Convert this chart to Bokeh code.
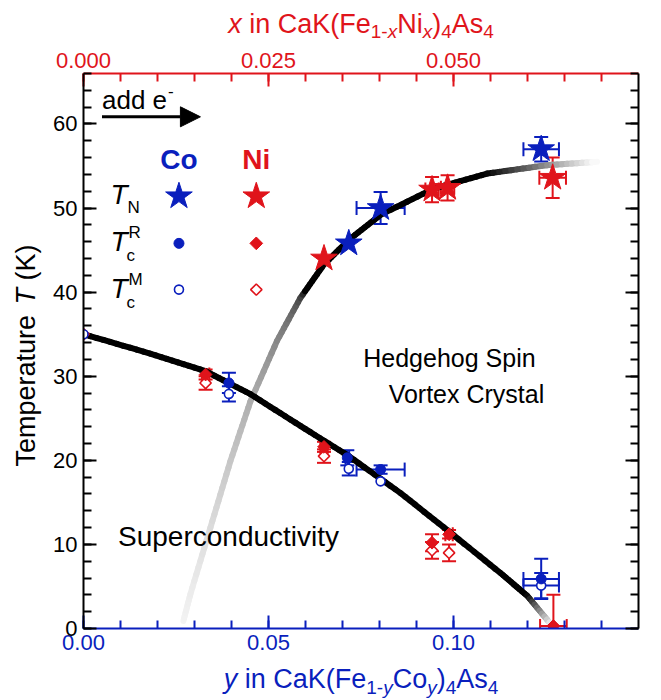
import numpy as np
from bokeh.plotting import figure
from bokeh.layouts import row, column
from bokeh.models import (Range1d, LinearAxis, SingleIntervalTicker, NumeralTickFormatter,
                          CustomJSTickFormatter, Whisker, TeeHead, ColumnDataSource, Label,
                          Arrow, NormalHead)
from bokeh.embed import file_html
from bokeh.resources import INLINE

BLUE = "#0a1fbd"
RED = "#e0141b"
FONT = "Liberation Sans"

# ---------------- data ----------------
# Co-doped (bottom axis, y in CaK(Fe1-yCoy)4As4)
co_tn_y = [0.0717, 0.0803, 0.1237]
co_tn_T = [45.8, 50.0, 57.0]
co_tn_dy = [0.0, 0.0065, 0.0048]
co_tn_dT = [0.0, 1.9, 1.45]

co_tcr_y = [0.0393, 0.0713, 0.0803, 0.1237]
co_tcr_T = [29.2, 20.3, 18.9, 5.9]
co_tcr_dy = [0.0, 0.0005, 0.0065, 0.0048]
co_tcr_dT = [1.2, 0.9, 0.5, 2.4]

co_tcm_y = [0.0, 0.0393, 0.0717, 0.0803, 0.1237]
co_tcm_T = [35.0, 27.9, 19.0, 17.5, 5.1]
co_tcm_dy = [0.0, 0.0, 0.0, 0.0, 0.0048]
co_tcm_dT = [0.0, 0.9, 0.8, 0.0, 1.5]

# Ni-doped (top axis, x in CaK(Fe1-xNix)4As4)
ni_tn_x = [0.0325, 0.0471, 0.0492, 0.0634]
ni_tn_T = [44.0, 52.2, 52.4, 53.6]
ni_tn_dx = [0.0, 0.0009, 0.0009, 0.0018]
ni_tn_dT = [0.0, 1.5, 1.5, 2.4]

ni_tcr_x = [0.0165, 0.0325, 0.0471, 0.0494, 0.0635]
ni_tcr_T = [30.2, 21.6, 10.2, 11.2, 0.3]
ni_tcr_dx = [0.0005, 0.0005, 0.0, 0.0005, 0.0018]
ni_tcr_dT = [0.6, 0.6, 1.0, 0.5, 3.7]

ni_tcm_x = [0.0, 0.0165, 0.0325, 0.0471, 0.0494]
ni_tcm_T = [35.0, 29.2, 20.5, 9.3, 9.0]
ni_tcm_dT = [0.0, 0.8, 0.8, 1.0, 1.0]

# guide-to-the-eye curves (bottom-axis composition)
tc_curve_y = [0.0, 0.018, 0.033, 0.045, 0.0586, 0.0717, 0.0857, 0.0986, 0.1127, 0.1199, 0.1266]
tc_curve_T = [35.0, 32.7, 30.6, 27.9, 24.1, 20.5, 16.1, 11.6, 6.6, 3.9, 0.36]

tn_curve_y = [0.0270, 0.0289, 0.0343, 0.0397, 0.0451, 0.0523, 0.0586, 0.0650, 0.0717,
              0.0803, 0.0946, 0.1091, 0.1253, 0.1388]
tn_curve_T = [0.9, 4.1, 12.0, 19.9, 27.0, 34.2, 39.3, 43.3, 46.2, 49.2, 52.3, 54.1, 55.1, 55.5]

# ---------------- layout geometry (px) ----------------
LEFT_W, TOP_H, BOT_H = 44, 42, 38
MAIN_W, MAIN_H = 661 - LEFT_W, 700 - TOP_H - BOT_H

p = figure(width=MAIN_W, height=MAIN_H, x_range=Range1d(0, 0.15), y_range=Range1d(0, 66),
           output_backend="svg", toolbar_location=None,
           min_border_left=39, min_border_right=23, min_border_top=31, min_border_bottom=34)
p.extra_x_ranges = {"ni": Range1d(0, 0.075)}
p.grid.visible = False
p.outline_line_color = None


def style_axis(ax, color, interval, labels=True):
    ax.ticker = SingleIntervalTicker(interval=interval, num_minor_ticks=5)
    ax.axis_line_color = color
    ax.axis_line_width = 2
    ax.major_tick_line_color = color
    ax.major_tick_line_width = 2
    ax.major_tick_in = 13
    ax.major_tick_out = 0
    ax.minor_tick_line_color = color
    ax.minor_tick_line_width = 2
    ax.minor_tick_in = 8
    ax.minor_tick_out = 0
    ax.major_label_text_color = color
    ax.major_label_text_font = FONT
    ax.major_label_text_font_size = "22px"
    ax.major_label_standoff = 6
    if not labels:
        ax.formatter = CustomJSTickFormatter(code="return ''")


xb = p.xaxis[0]
style_axis(xb, BLUE, 0.05)
xb.formatter = NumeralTickFormatter(format="0.00")
yl = p.yaxis[0]
style_axis(yl, "black", 10)

xt = LinearAxis(x_range_name="ni")
style_axis(xt, RED, 0.025)
xt.formatter = NumeralTickFormatter(format="0.000")
p.add_layout(xt, "above")

yr = LinearAxis()
style_axis(yr, "black", 10, labels=False)
p.add_layout(yr, "right")


# ---------------- curves with fading ----------------
def hexgray(g):
    v = int(round(255 * min(max(g, 0.0), 1.0)))
    return "#%02x%02x%02x" % (v, v, v)


def draw_curve(xs, ys, shade, n=10, width=6):
    sx, sy, cols = [], [], []
    for i in range(len(xs) - 1):
        for k in range(n):
            a, b = k / n, (k + 1) / n
            x0 = xs[i] + (xs[i + 1] - xs[i]) * a
            x1 = xs[i] + (xs[i + 1] - xs[i]) * b
            y0 = ys[i] + (ys[i + 1] - ys[i]) * a
            y1 = ys[i] + (ys[i + 1] - ys[i]) * b
            sx.append([x0, x1])
            sy.append([y0, y1])
            cols.append(hexgray(shade(0.5 * (x0 + x1), 0.5 * (y0 + y1))))
    p.multi_line(sx, sy, line_color=cols, line_width=width, line_cap="round", line_join="round")


def tn_shade(x, T):
    g = 0.0 if T >= 40 else 0.96 * ((40 - T) / 40) ** 0.3
    if x > tn_curve_y[-3]:
        g = max(g, (x - tn_curve_y[-3]) / (tn_curve_y[-1] - tn_curve_y[-3]))
    return g


def tc_shade(x, T):
    if x > tc_curve_y[-2]:
        return 0.95 * (x - tc_curve_y[-2]) / (tc_curve_y[-1] - tc_curve_y[-2])
    return 0.0


draw_curve(tn_curve_y, tn_curve_T, tn_shade)
draw_curve(tc_curve_y, tc_curve_T, tc_shade)


# ---------------- error bars ----------------
def errbars(xs, ys, dx, dy, color, rname="default"):
    head = dict(size=14, line_color=color, line_width=2)
    v = [(x, y, d) for x, y, d in zip(xs, ys, dy) if d > 0]
    if v:
        src = ColumnDataSource(dict(base=[a for a, _, _ in v],
                                    lower=[b - d for _, b, d in v],
                                    upper=[b + d for _, b, d in v]))
        p.add_layout(Whisker(source=src, base="base", lower="lower", upper="upper",
                             dimension="height", line_color=color, line_width=2,
                             upper_head=TeeHead(**head), lower_head=TeeHead(**head),
                             x_range_name=rname))
    h = [(x, y, d) for x, y, d in zip(xs, ys, dx) if d > 0]
    if h:
        src = ColumnDataSource(dict(base=[b for _, b, _ in h],
                                    lower=[a - d for a, _, d in h],
                                    upper=[a + d for a, _, d in h]))
        p.add_layout(Whisker(source=src, base="base", lower="lower", upper="upper",
                             dimension="width", line_color=color, line_width=2,
                             upper_head=TeeHead(**head), lower_head=TeeHead(**head),
                             x_range_name=rname))


errbars(co_tn_y, co_tn_T, co_tn_dy, co_tn_dT, BLUE)
errbars(co_tcr_y, co_tcr_T, co_tcr_dy, co_tcr_dT, BLUE)
errbars(co_tcm_y, co_tcm_T, co_tcm_dy, co_tcm_dT, BLUE)
errbars(ni_tn_x, ni_tn_T, ni_tn_dx, ni_tn_dT, RED, "ni")
errbars(ni_tcr_x, ni_tcr_T, ni_tcr_dx, ni_tcr_dT, RED, "ni")
errbars(ni_tcm_x, ni_tcm_T, [0] * len(ni_tcm_x), ni_tcm_dT, RED, "ni")

# ---------------- markers ----------------
p.scatter(ni_tcm_x, ni_tcm_T, marker="square", angle=np.pi / 4, size=8, fill_color="white",
          line_color=RED, line_width=1.6, x_range_name="ni")
p.scatter(co_tcm_y, co_tcm_T, marker="circle", size=9, fill_color="white", line_color=BLUE, line_width=1.6)
p.scatter(co_tcr_y, co_tcr_T, marker="circle", size=10, fill_color=BLUE, line_color=BLUE)
p.scatter(ni_tcr_x, ni_tcr_T, marker="square", angle=np.pi / 4, size=9, fill_color=RED,
          line_color=RED, x_range_name="ni")
p.scatter(co_tn_y, co_tn_T, marker="star", size=28, fill_color=BLUE, line_color=BLUE)
p.scatter(ni_tn_x, ni_tn_T, marker="star", size=28, fill_color=RED, line_color=RED, x_range_name="ni")

# ---------------- text helpers ----------------
W = {' ': 278, '(': 333, ')': 333, '-': 333, '.': 278, 'A': 667, 'C': 722, 'F': 611, 'K': 667,
     'N': 722, 'M': 833, 'R': 722, 'T': 611, 'a': 556, 'c': 500, 'd': 556, 'e': 556, 'i': 222,
     'n': 556, 'o': 556, 's': 500, 'x': 500, 'y': 500, 'm': 833, 'p': 556, 'r': 333, 't': 278,
     'u': 556}
BASE_FIX = 0.35  # em: lifts the alphabetic baseline to where it is meant to sit


def text_w(s, size):
    return sum(W.get(c, 556) for c in s) * size / 1000.0


def lab(fig, x, y, text, size, color="black", style="normal", xo=0, yo=0, angle=0.0, align="left"):
    fix = BASE_FIX * size
    if angle == 0:
        yo = yo + fix
    else:
        xo = xo - fix
    fig.add_layout(Label(x=x, y=y, x_offset=xo, y_offset=yo, text=text, angle=angle,
                         text_font=FONT, text_font_size=f"{size}px", text_font_style=style,
                         text_color=color, text_align=align, text_baseline="alphabetic"))


def rich(fig, x, y, pieces, color, angle=0.0):
    total = sum(text_w(t, s) for t, s, st, sh in pieces)
    adv = -total / 2
    for t, s, st, sh in pieces:
        lead = text_w(" " * (len(t) - len(t.lstrip(" "))), s)
        txt = t.strip(" ")
        if angle == 0:
            lab(fig, x, y, txt, s, color, st, adv + lead, sh)
        else:
            lab(fig, x, y, txt, s, color, st, -sh, adv + lead, angle=angle)
        adv += text_w(t, s)


def blank(w, h):
    f = figure(width=w, height=h, x_range=Range1d(0, w), y_range=Range1d(0, h),
               output_backend="svg", toolbar_location=None, min_border=0,
               x_axis_location=None, y_axis_location=None)
    f.outline_line_color = None
    f.grid.visible = False
    return f


left_fig = blank(LEFT_W, 700)
top_fig = blank(MAIN_W, TOP_H)
bot_fig = blank(MAIN_W, BOT_H)

BIG, SUB = 27, 19
TITLE_CX = 39 + 555 / 2 - 8   # title centre within the main figure's width
rich(bot_fig, TITLE_CX, 12,
     [("y", BIG, "italic", 0), (" in CaK(Fe", BIG, "normal", 0), ("1-", SUB, "normal", -6),
      ("y", SUB, "italic", -6), ("Co", BIG, "normal", 0), ("y", SUB, "italic", -6),
      (")", BIG, "normal", 0), ("4", SUB, "normal", -6), ("As", BIG, "normal", 0),
      ("4", SUB, "normal", -6)], BLUE)
rich(top_fig, TITLE_CX, 9,
     [("x", BIG, "italic", 0), (" in CaK(Fe", BIG, "normal", 0), ("1-", SUB, "normal", -5),
      ("x", SUB, "italic", -5), ("Ni", BIG, "normal", 0), ("x", SUB, "italic", -5),
      (")", BIG, "normal", 0), ("4", SUB, "normal", -5), ("As", BIG, "normal", 0),
      ("4", SUB, "normal", -5)], RED)
rich(left_fig, 35, 345,
     [("Temperature ", BIG, "normal", 0), ("T", BIG, "italic", 0), (" (K)", BIG, "normal", 0)],
     "black", angle=np.pi / 2)

# annotations inside the plot
lab(p, 0.0989, 31.1, "Hedgehog Spin", 25, align="center")
lab(p, 0.1035, 26.9, "Vortex Crystal", 25, align="center")
lab(p, 0.0392, 9.8, "Superconductivity", 28, align="center")
lab(p, 0.0050, 61.8, "add e", 26)
lab(p, 0.0050, 61.8, "-", 17, xo=text_w("add e", 26) + 1, yo=12)
p.add_layout(Arrow(x_start=0.0050, y_start=60.85, x_end=0.0316, y_end=60.85, line_width=3,
                   line_color="black",
                   end=NormalHead(size=20, fill_color="black", line_color="black")))

# legend block
leg_co_x, leg_ni_x = 0.0258, 0.0467
leg_rows = [51.4, 45.8, 40.3]
lab(p, leg_co_x, 54.6, "Co", 28, BLUE, "bold", align="center")
lab(p, leg_ni_x, 54.6, "Ni", 28, RED, "bold", align="center")
p.scatter([leg_co_x], [leg_rows[0]], marker="star", size=28, fill_color=BLUE, line_color=BLUE)
p.scatter([leg_ni_x], [leg_rows[0]], marker="star", size=28, fill_color=RED, line_color=RED)
p.scatter([leg_co_x], [leg_rows[1]], marker="circle", size=10, fill_color=BLUE, line_color=BLUE)
p.scatter([leg_ni_x], [leg_rows[1]], marker="square", angle=np.pi / 4, size=9, fill_color=RED, line_color=RED)
p.scatter([leg_co_x], [leg_rows[2]], marker="circle", size=9, fill_color="white", line_color=BLUE, line_width=1.6)
p.scatter([leg_ni_x], [leg_rows[2]], marker="square", angle=np.pi / 4, size=8, fill_color="white",
          line_color=RED, line_width=1.6)

tx = 0.0073
tw_T = text_w("T", 28)
lab(p, tx, 50.4, "T", 28, style="italic")
lab(p, tx, 50.4, "N", 17, xo=tw_T, yo=-9)
lab(p, tx, 44.8, "T", 28, style="italic")
lab(p, tx, 44.8, "c", 17, xo=tw_T - 1, yo=-10)
lab(p, tx, 44.8, "R", 17, xo=tw_T + 1, yo=13)
lab(p, tx, 39.3, "T", 28, style="italic")
lab(p, tx, 39.3, "c", 17, xo=tw_T - 1, yo=-10)
lab(p, tx, 39.3, "M", 17, xo=tw_T + 1, yo=13)

layout = row(left_fig, column(top_fig, p, bot_fig))
open("out.html", "w").write(file_html(layout, INLINE))
